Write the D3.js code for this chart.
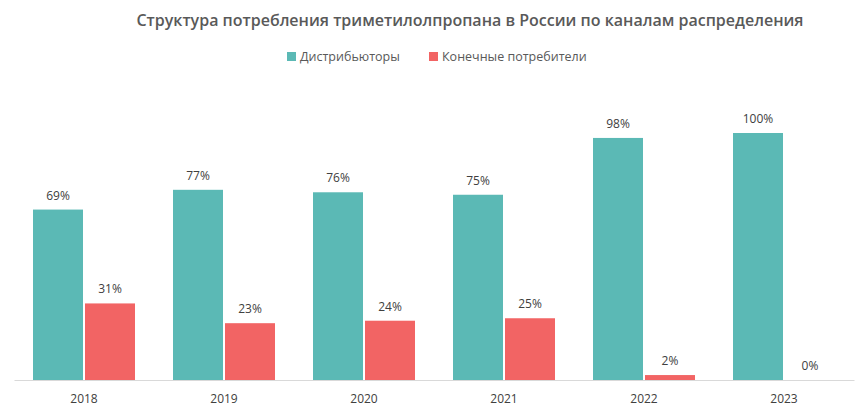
<!DOCTYPE html>
<html><head><meta charset="utf-8">
<script src="https://cdn.jsdelivr.net/npm/d3@7"></script>
<style>body{margin:0;background:#fff;font-family:"Open Sans","Noto Sans",sans-serif;}</style>
</head><body>
<svg id="c" width="868" height="417"></svg>
<script>
const years = ["2018","2019","2020","2021","2022","2023"];
const distributors = [69,77,76,75,98,100];
const endUsers = [31,23,24,25,2,0];
const seriesNames = ["Дистрибьюторы","Конечные потребители"];
const colors = ["#5BB9B5","#F26464"];

const svg = d3.select("#c");
const x = d3.scaleBand().domain(years).range([14,854]).paddingInner(0).paddingOuter(0);
const y = d3.scaleLinear().domain([0,100]).range([380,133]);
const bw = 50;

svg.append("text").attr("x",470).attr("y",26).attr("text-anchor","middle")
  .attr("font-size",16).attr("font-weight",600).attr("fill","#595959")
  .text("Структура потребления триметилолпропана  в России по каналам распределения");

const leg = [{x:287,t:seriesNames[0],c:colors[0]},{x:429,t:seriesNames[1],c:colors[1]}];
leg.forEach(l=>{
  svg.append("rect").attr("x",l.x).attr("y",52).attr("width",9).attr("height",9).attr("fill",l.c);
  svg.append("text").attr("x",l.x+13).attr("y",61).attr("font-size",12.5).attr("fill","#595959").text(l.t);
});

const data = [distributors,endUsers];
data.forEach((arr,si)=>{
  years.forEach((yr,i)=>{
    const cx = x(yr)+x.bandwidth()/2;
    const bx = si===0 ? cx-bw-1 : cx+1;
    const v = arr[i];
    svg.append("rect").attr("x",bx).attr("y",y(v)).attr("width",bw).attr("height",380-y(v)).attr("fill",colors[si]);
    svg.append("text").attr("x",bx+bw/2).attr("y",y(v)-10).attr("text-anchor","middle")
      .attr("font-size",12).attr("fill","#404040").text(v+"%");
  });
});

const ax = svg.append("g").attr("transform","translate(0,380)")
  .call(d3.axisBottom(x).tickSize(0).tickPadding(14));
ax.select(".domain").attr("stroke","#d9d9d9");
ax.selectAll("text").attr("font-size",12).attr("fill","#404040").attr("font-family","Open Sans, Noto Sans, sans-serif");
</script>
</body></html>
